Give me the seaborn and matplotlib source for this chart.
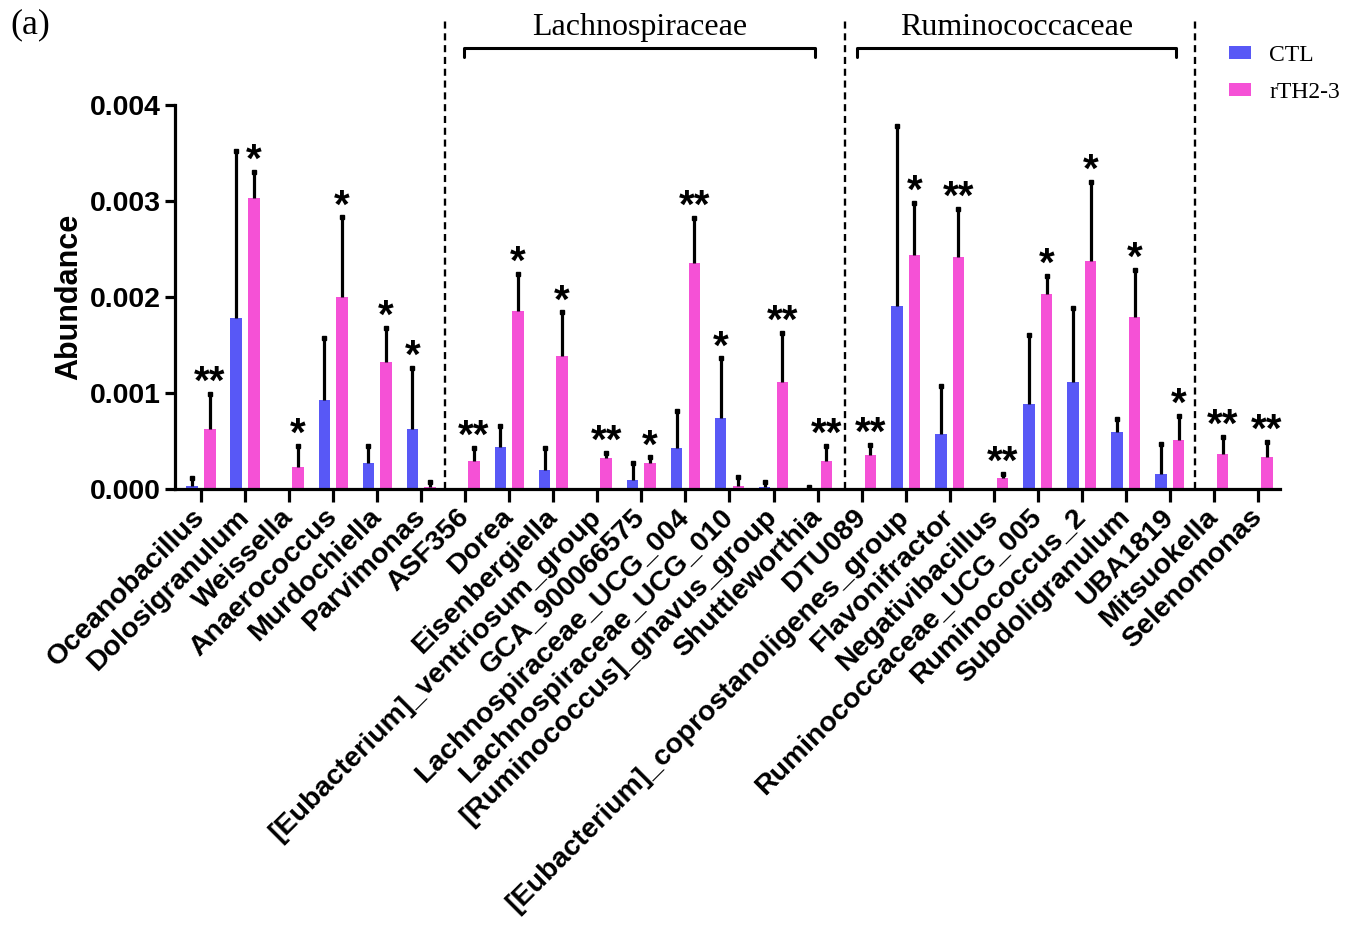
import numpy as np
import pandas as pd
import matplotlib
matplotlib.use("Agg")
import matplotlib.pyplot as plt
import seaborn as sns

# --- datos ---
genus = ["Oceanobacillus", "Dolosigranulum", "Weissella", "Anaerococcus", "Murdochiella",
         "Parvimonas", "ASF356", "Dorea", "Eisenbergiella", "[Eubacterium]_ventriosum_group",
         "GCA_900066575", "Lachnospiraceae_UCG_004", "Lachnospiraceae_UCG_010",
         "[Ruminococcus]_gnavus_group", "Shuttleworthia", "DTU089",
         "[Eubacterium]_coprostanoligenes_group", "Flavonifractor", "Negativibacillus",
         "Ruminococcaceae_UCG_005", "Ruminococcus_2", "Subdoligranulum", "UBA1819",
         "Mitsuokella", "Selenomonas"]

ctl_mean = [0.00003, 0.00178, 0, 0.00093, 0.00027, 0.00062, 0, 0.00044, 0.00020, 0,
            0.00009, 0.00043, 0.00074, 0.00002, 0.00001, 0, 0.00191, 0.00057, 0,
            0.00089, 0.00111, 0.00059, 0.00016, 0, 0]
ctl_sd = [0.00008, 0.00174, 0, 0.00064, 0.00018, 0.00064, 0, 0.00022, 0.00023, 0,
          0.00018, 0.00038, 0.00062, 0.00005, 0.00001, 0, 0.00187, 0.00050, 0,
          0.00071, 0.00078, 0.00014, 0.00031, 0, 0]

rth_mean = [0.00063, 0.00303, 0.00023, 0.00200, 0.00132, 0.00002, 0.00029, 0.00185, 0.00139,
            0.00032, 0.00027, 0.00235, 0.00003, 0.00111, 0.00029, 0.00035, 0.00244, 0.00242,
            0.00011, 0.00203, 0.00237, 0.00179, 0.00051, 0.00036, 0.00033]
rth_sd = [0.00036, 0.00027, 0.00022, 0.00083, 0.00036, 0.00005, 0.00014, 0.00039, 0.00045,
          0.00006, 0.00006, 0.00047, 0.00009, 0.00052, 0.00016, 0.00011, 0.00054, 0.00050,
          0.00005, 0.00019, 0.00083, 0.00049, 0.00025, 0.00018, 0.00016]

sig = ["**", "*", "*", "*", "*", "*", "**", "*", "*", "**", "*", "**", "*", "**", "**",
       "**", "*", "**", "**", "*", "*", "*", "*", "**", "**"]

grupos = ["CTL", "rTH2-3"]
colores = {"CTL": "#5858F6", "rTH2-3": "#F551D6"}

# familias: (texto, primer genero, ultimo genero)
familias = [("Lachnospiraceae", "ASF356", "Shuttleworthia"),
            ("Ruminococcaceae", "DTU089", "UBA1819")]

df = pd.DataFrame({
    "genus": genus * 2,
    "group": ["CTL"] * len(genus) + ["rTH2-3"] * len(genus),
    "abundance": ctl_mean + rth_mean,
    "sd": ctl_sd + rth_sd,
})

# --- estilo ---
sns.set_style("ticks")
plt.rcParams.update({
    "font.family": ["Liberation Sans", "DejaVu Sans"],
    "axes.linewidth": 2.3,
    "text.color": "black",
    "axes.labelcolor": "black",
    "axes.edgecolor": "black",
    "xtick.color": "black",
    "ytick.color": "black",
})
serif = ["Liberation Serif", "DejaVu Serif"]

fig = plt.figure(figsize=(13.59, 9.26), dpi=100)
ax = fig.add_axes([175 / 1359, 1 - 489 / 926, (1280 - 175) / 1359, (489 - 105) / 926])

sns.barplot(data=df, x="genus", y="abundance", hue="group", hue_order=grupos,
            palette=colores, errorbar=None, width=0.8, gap=0.35,
            saturation=1, linewidth=0, ax=ax)

# barras de error (solo hacia arriba, con tapa pequena)
tops = {}
for cont, g in zip(ax.containers, grupos):
    sub = df[df["group"] == g].reset_index(drop=True)
    for i, bar in enumerate(cont):
        x = bar.get_x() + bar.get_width() / 2
        m = sub.loc[i, "abundance"]
        s = sub.loc[i, "sd"]
        tops[(g, i)] = (x, m, m + s)
        if m == 0 and s == 0:
            continue
        ax.vlines(x, m, m + s, color="black", lw=2.3, zorder=3)
        ax.plot([x], [m + s], marker="s", ms=3.4, color="black", zorder=3)

# asteriscos sobre la barra de mayor media
for i, s in enumerate(sig):
    xc, mc, tc = tops[("CTL", i)]
    xr, mr, tr = tops[("rTH2-3", i)]
    x, t = (xc, tc) if mc > mr else (xr, tr)
    ax.text(x, t, s, ha="center", va="baseline", fontsize=29, fontweight="bold", zorder=4)

ax.set_xlim(-0.59, 24.5)
ax.set_ylim(0, 0.004)
ax.set_yticks([0, 0.001, 0.002, 0.003, 0.004])
ax.yaxis.set_major_formatter(matplotlib.ticker.FormatStrFormatter("%.3f"))
sns.despine(ax=ax)
ax.tick_params(axis="y", length=7, width=2.3, labelsize=20.5, pad=3)
ax.tick_params(axis="x", length=9, width=2.3, labelsize=20.5, pad=8.5)
for lab in ax.get_yticklabels():
    lab.set_fontweight("bold")
ax.set_xticks(range(len(genus)))
ax.set_xticklabels(genus, rotation=45, ha="right", va="center",
                   rotation_mode="anchor", fontweight="bold")
ax.set_xlabel("")
ax.set_ylabel("Abundance", fontsize=22, fontweight="bold", labelpad=4)

# lineas discontinuas de separacion
trans = ax.get_xaxis_transform()
idx = {g: i for i, g in enumerate(genus)}
for xs in [idx["Parvimonas"] + 0.53, idx["Shuttleworthia"] + 0.62, idx["UBA1819"] + 0.56]:
    ax.plot([xs, xs], [0, 1.227], transform=trans, color="black", lw=1.7,
            ls=(0, (3, 2)), clip_on=False)

# corchetes de familias
extremos = [(-0.02, -0.06), (-0.11, 0.13)]
for (nombre, g0, g1), (d0, d1) in zip(familias, extremos):
    x0, x1 = idx[g0] + d0, idx[g1] + d1
    ax.plot([x0, x0, x1, x1], [1.125, 1.148, 1.148, 1.125], transform=trans,
            color="black", lw=2.2, clip_on=False)
    ax.text((x0 + x1) / 2, 1.203, nombre, transform=trans, ha="center", va="center",
            fontsize=23, family=serif)

# leyenda
leg = ax.get_legend()
handles = leg.legend_handles
labels = [t.get_text() for t in leg.get_texts()]
leg.remove()
fig.legend(handles, labels, loc="upper left", bbox_to_anchor=(1208 / 1359, 1 - 24 / 926),
           frameon=False, prop={"family": serif, "size": 17},
           handlelength=0.9, handleheight=0.45, handletextpad=0.8, labelspacing=0.65)

fig.text(10 / 1359, 1 - 25 / 926, "(a)", fontsize=26, family=serif, va="center", ha="left")

fig.savefig("out.png", dpi=100)
